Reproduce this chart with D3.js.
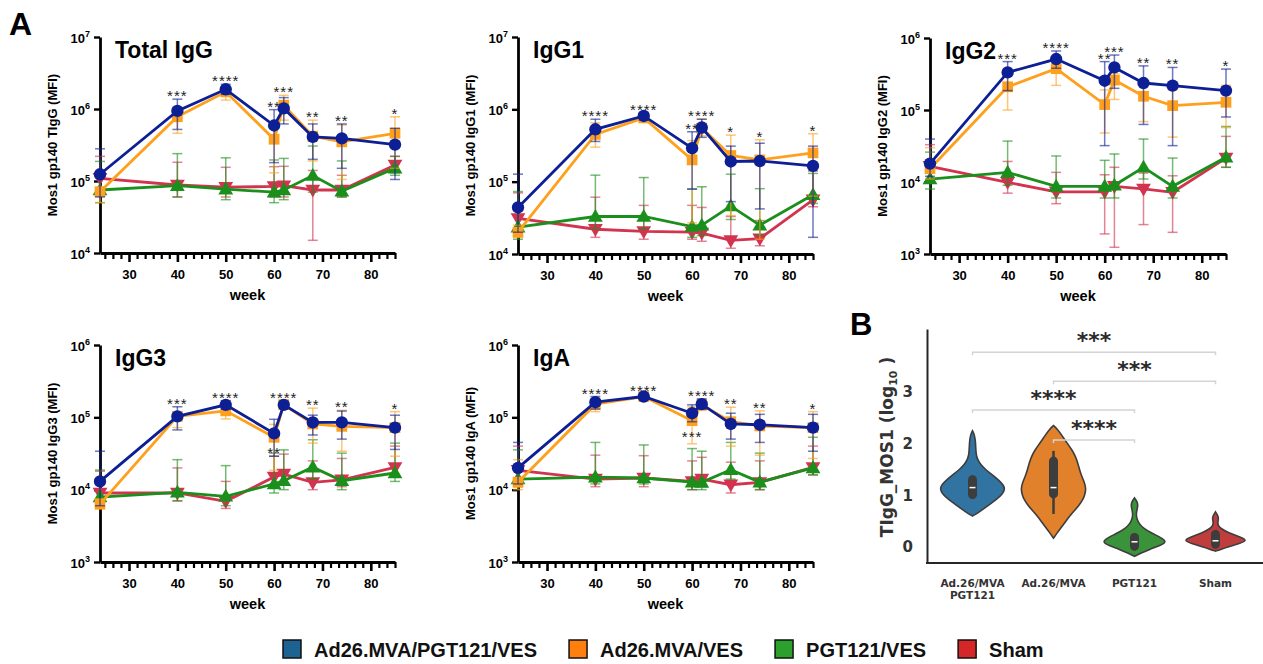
<!DOCTYPE html>
<html><head><meta charset="utf-8">
<script src="https://cdn.jsdelivr.net/npm/d3@7"></script>
<style>
body{margin:0;background:#fff}
svg{display:block}
text{font-family:"Liberation Sans",Arial,sans-serif}
.v text, text.v{font-family:"DejaVu Sans",sans-serif}
</style>
</head><body>
<svg id="c" width="1263" height="664"></svg>
<script>
// ---------------- DATA ----------------
const weeks = [24, 40, 50, 60, 62, 68, 74, 85];
const groups = ["Ad26.MVA/PGT121/VES", "Ad26.MVA/VES", "PGT121/VES", "Sham"];
const starWeeks = [40, 50, 60, 62, 68, 74, 85];

// series order: [Ad26.MVA/PGT121/VES, Ad26.MVA/VES, PGT121/VES, Sham]
const tiggMean = [
  [1.24e5, 9.4e5, 1.88e6, 5.9e5, 1.02e6, 4.1e5, 3.9e5, 3.2e5],
  [7.1e4, 7.8e5, 1.73e6, 3.8e5, 1.13e6, 4.2e5, 3.5e5, 4.6e5],
  [7.5e4, 8.6e4, 7.7e4, 7.0e4, 7.5e4, 1.19e5, 7.2e4, 1.51e5],
  [1.09e5, 8.8e4, 8.2e4, 8.4e4, 8.6e4, 7.5e4, 7.5e4, 1.67e5]];
const tiggHi = [
  [2.8e5, 1.37e6, 2.2e6, 9.8e5, 1.44e6, 6.2e5, 6.2e5, 5.4e5],
  [1.1e5, 1.05e6, 1.95e6, 6.5e5, 1.55e6, 7.0e5, 6.0e5, 7.8e5],
  [1.87e5, 2.4e5, 2.1e5, 1.96e5, 2.06e5, 3.06e5, 1.9e5, 2.2e5],
  [2.2e5, 1.82e5, 1.55e5, 1.58e5, 1.6e5, 1.4e5, 1.2e5, 2.2e5]];
const tiggLo = [
  [6.0e4, 5.2e5, 1.6e6, 1.8e5, 6.2e5, 2.0e5, 1.5e5, 1.05e5],
  [5.0e4, 4.6e5, 1.33e6, 1.3e5, 7.0e5, 1.9e5, 1.05e5, 1.5e5],
  [5.0e4, 6.0e4, 5.5e4, 5.0e4, 5.5e4, 7.0e4, 6.0e4, 1.2e5],
  [7.0e4, 6.0e4, 6.0e4, 6.0e4, 6.0e4, 1.5e4, 6.0e4, 1.3e5]];
const tiggStars = ["***", "****", "**", "***", "**", "**", "*"];

const igg1Mean = [
  [4.4e4, 5.3e5, 8.1e5, 2.9e5, 5.6e5, 1.9e5, 1.93e5, 1.65e5],
  [2.0e4, 4.5e5, 7.6e5, 2.0e5, 5.5e5, 2.3e5, 2.0e5, 2.5e5],
  [2.35e4, 3.3e4, 3.3e4, 2.4e4, 2.5e4, 4.6e4, 2.5e4, 6.6e4],
  [3.1e4, 2.2e4, 2.05e4, 2.0e4, 1.95e4, 1.54e4, 1.63e4, 5.6e4]];
const igg1Hi = [
  [1.27e5, 7.3e5, 9.0e5, 4.9e5, 7.3e5, 3.1e5, 3.4e5, 3.1e5],
  [2.5e4, 6.5e5, 8.6e5, 3.7e5, 7.3e5, 4.4e5, 3.8e5, 4.6e5],
  [7.3e4, 1.23e5, 1.14e5, 7.9e4, 8.5e4, 1.27e5, 8.0e4, 1.3e5],
  [7.0e4, 6.1e4, 4.7e4, 4.7e4, 4.4e4, 3.3e4, 2.9e4, 1.4e5]];
const igg1Lo = [
  [2.0e4, 3.6e5, 7.2e5, 7.9e4, 4.1e5, 5.3e4, 4.2e4, 1.7e4],
  [1.7e4, 3.0e5, 6.8e5, 2.7e4, 4.3e5, 3.4e4, 1.6e4, 6.3e4],
  [1.6e4, 2.2e4, 2.2e4, 1.7e4, 1.8e4, 3.0e4, 1.8e4, 5.0e4],
  [2.2e4, 1.7e4, 1.6e4, 1.6e4, 1.5e4, 1.2e4, 1.3e4, 4.5e4]];
const igg1Stars = ["****", "****", "**", "****", "*", "*", "*"];

const igg2Mean = [
  [1.8e4, 3.33e5, 5.1e5, 2.55e5, 3.9e5, 2.37e5, 2.18e5, 1.86e5],
  [1.53e4, 2.1e5, 3.75e5, 1.19e5, 2.6e5, 1.55e5, 1.15e5, 1.28e5],
  [1.1e4, 1.36e4, 8.7e3, 8.7e3, 9.0e3, 1.6e4, 8.7e3, 2.2e4],
  [1.65e4, 9.9e3, 7.3e3, 7.3e3, 8.7e3, 8.0e3, 7.2e3, 2.15e4]];
const igg2Hi = [
  [3.95e4, 4.7e5, 6.6e5, 4.7e5, 5.8e5, 4.1e5, 3.9e5, 3.7e5],
  [3.0e4, 3.0e5, 4.2e5, 1.9e5, 3.2e5, 2.4e5, 1.9e5, 2.2e5],
  [2.6e4, 3.7e4, 2.3e4, 2.0e4, 2.45e4, 3.95e4, 2.15e4, 5.9e4],
  [3.3e4, 1.93e4, 1.36e4, 1.26e4, 1.6e4, 1.33e4, 1.22e4, 4.3e4]];
const igg2Lo = [
  [1.2e4, 1.86e5, 3.8e5, 3.2e4, 2.0e5, 6.3e4, 3.2e4, 8.0e4],
  [1.1e4, 1.0e5, 2.2e5, 4.8e4, 1.4e5, 6.9e4, 4.2e4, 5.7e4],
  [8.0e3, 9.0e3, 6.0e3, 6.0e3, 6.0e3, 1.1e4, 6.0e3, 1.6e4],
  [1.1e4, 7.0e3, 5.0e3, 1.9e3, 1.24e3, 2.56e3, 2.0e3, 1.6e4]];
const igg2Stars = ["***", "****", "**", "***", "**", "**", "*"];

const igg3Mean = [
  [1.3e4, 1.03e5, 1.49e5, 6.0e4, 1.49e5, 8.5e4, 8.5e4, 7.2e4],
  [6.3e3, 1.03e5, 1.23e5, 5.3e4, 1.5e5, 8.1e4, 7.5e4, 7.2e4],
  [7.9e3, 9.2e3, 8.1e3, 1.2e4, 1.33e4, 2.05e4, 1.33e4, 1.7e4],
  [9.0e3, 9.0e3, 6.9e3, 1.5e4, 1.64e4, 1.26e4, 1.37e4, 2.03e4]];
const igg3Hi = [
  [3.4e4, 1.4e5, 1.7e5, 9.4e4, 1.65e5, 1.07e5, 1.22e5, 1.07e5],
  [7.5e3, 1.2e5, 1.35e5, 8.0e4, 1.7e5, 1.34e5, 1.25e5, 1.2e5],
  [1.87e4, 2.6e4, 2.15e4, 3.2e4, 3.55e4, 4.9e4, 3.2e4, 4.4e4],
  [1.8e4, 2.0e4, 1.3e4, 2.9e4, 3.1e4, 2.5e4, 2.7e4, 4.0e4]];
const igg3Lo = [
  [6.0e3, 6.7e4, 1.3e5, 2.9e4, 1.35e5, 5.7e4, 5.0e4, 3.6e4],
  [5.5e3, 7.2e4, 9.5e4, 1.85e4, 1.3e5, 4.4e4, 3.4e4, 2.9e4],
  [6.0e3, 7.0e3, 6.0e3, 9.0e3, 1.0e4, 1.4e4, 1.0e4, 1.3e4],
  [7.0e3, 7.0e3, 5.5e3, 1.1e4, 1.2e4, 1.0e4, 1.1e4, 1.6e4]];
const igg3Stars = ["***", "****", "**", "****", "**", "**", "*"];
const igg3StarBelow = [60];

const igaMean = [
  [2.0e4, 1.62e5, 1.94e5, 1.14e5, 1.52e5, 8.1e4, 7.9e4, 7.2e4],
  [1.27e4, 1.52e5, 1.94e5, 9.0e4, 1.49e5, 8.7e4, 7.6e4, 7.2e4],
  [1.4e4, 1.49e4, 1.45e4, 1.27e4, 1.26e4, 1.88e4, 1.27e4, 2.0e4],
  [1.85e4, 1.4e4, 1.45e4, 1.3e4, 1.4e4, 1.17e4, 1.26e4, 2.03e4]];
const igaHi = [
  [4.5e4, 1.94e5, 2.1e5, 1.49e5, 1.8e5, 1.14e5, 1.1e5, 1.1e5],
  [2.6e4, 1.8e5, 2.05e5, 1.4e5, 1.75e5, 1.38e5, 1.23e5, 1.2e5],
  [3.55e4, 4.5e4, 4.15e4, 3.7e4, 3.4e4, 4.5e4, 3.2e4, 5.3e4],
  [4.0e4, 3.0e4, 2.95e4, 2.5e4, 2.8e4, 2.4e4, 2.5e4, 4.0e4]];
const igaLo = [
  [1.2e4, 1.3e5, 1.8e5, 8.7e4, 1.3e5, 5.0e4, 4.5e4, 3.4e4],
  [1.0e4, 1.2e5, 1.8e5, 4.3e4, 1.25e5, 4.0e4, 3.0e4, 2.7e4],
  [1.1e4, 1.2e4, 1.2e4, 1.0e4, 1.0e4, 1.4e4, 1.0e4, 1.6e4],
  [1.4e4, 1.1e4, 1.1e4, 1.0e4, 1.1e4, 9.0e3, 1.0e4, 1.6e4]];
const igaStars = ["****", "****", "***", "****", "**", "**", "*"];
const igaStarBelow = [60];

// Panel B (violin, log10 values)
const violinCats = ["Ad.26/MVA|PGT121", "Ad.26/MVA", "PGT121", "Sham"];
const violinTicks = [0, 1, 2, 3];
// density profiles: [value, relative width]
const violinBlue = [[2.25,0],[2.17,0.06],[2.05,0.09],[1.92,0.1],[1.8,0.11],[1.7,0.15],[1.6,0.24],[1.5,0.4],[1.4,0.6],[1.3,0.8],[1.2,0.95],[1.12,1.0],[1.02,0.92],[0.92,0.74],[0.82,0.52],[0.72,0.3],[0.64,0.12],[0.6,0]];
const violinOrange = [[2.35,0],[2.28,0.12],[2.15,0.27],[2.0,0.43],[1.88,0.57],[1.75,0.68],[1.62,0.75],[1.5,0.8],[1.38,0.86],[1.25,0.95],[1.14,1.0],[1.02,0.97],[0.91,0.9],[0.8,0.78],[0.7,0.64],[0.6,0.5],[0.49,0.37],[0.38,0.24],[0.28,0.12],[0.17,0]];
const violinGreen = [[0.95,0],[0.89,0.07],[0.81,0.11],[0.73,0.08],[0.64,0.05],[0.55,0.07],[0.45,0.14],[0.36,0.28],[0.27,0.52],[0.18,0.82],[0.1,1.0],[0.03,0.8],[-0.05,0.45],[-0.12,0.2],[-0.18,0]];
const violinRed = [[0.68,0],[0.62,0.06],[0.56,0.1],[0.49,0.07],[0.42,0.07],[0.35,0.18],[0.27,0.42],[0.2,0.74],[0.13,1.0],[0.06,0.72],[0.0,0.36],[-0.05,0.15],[-0.08,0]];
const violinQ1 = [0.93, 0.94, -0.07, -0.03];
const violinQ3 = [1.39, 1.75, 0.27, 0.33];
const violinMedian = [1.15, 1.15, 0.10, 0.12];
const violinWhiskLo = [0.93, 0.64, -0.07, -0.03];
const violinWhiskHi = [1.39, 1.86, 0.27, 0.33];
// significance brackets: [from, to, level(log10), label]
const brackets = [[0, 3, 3.77, "***"], [1, 3, 3.21, "***"], [0, 2, 2.65, "****"], [1, 2, 2.07, "****"]];

// ---------------- STYLE / LAYOUT ----------------
const lineColors = ["#0d1f94", "#ffa01c", "#1b8f1b", "#d2344f"];
const violinColors = ["#3274a1", "#e1812c", "#3a923a", "#c03d3e"];
const legendColors = ["#1d6391", "#ff7f0e", "#2ca02c", "#d62728"];

const panels = [
  {title: "Total IgG", ylab: "Mos1 gp140 TIgG (MFI)", ymin: 1e4, ymax: 1e7, x0: 100, x1: 395, yTop: 37, yBot: 253,
   mean: tiggMean, hi: tiggHi, lo: tiggLo, stars: tiggStars, below: []},
  {title: "IgG1", ylab: "Mos1 gp140 IgG1 (MFI)", ymin: 1e4, ymax: 1e7, x0: 518, x1: 813, yTop: 37, yBot: 254,
   mean: igg1Mean, hi: igg1Hi, lo: igg1Lo, stars: igg1Stars, below: []},
  {title: "IgG2", ylab: "Mos1 gp140 IgG2 (MFI)", ymin: 1e3, ymax: 1e6, x0: 930, x1: 1226, yTop: 38, yBot: 254,
   mean: igg2Mean, hi: igg2Hi, lo: igg2Lo, stars: igg2Stars, below: []},
  {title: "IgG3", ylab: "Mos1 gp140 IgG3 (MFI)", ymin: 1e3, ymax: 1e6, x0: 100, x1: 395, yTop: 345, yBot: 562,
   mean: igg3Mean, hi: igg3Hi, lo: igg3Lo, stars: igg3Stars, below: igg3StarBelow},
  {title: "IgA", ylab: "Mos1 gp140 IgA (MFI)", ymin: 1e3, ymax: 1e6, x0: 518, x1: 813, yTop: 345, yBot: 562,
   mean: igaMean, hi: igaHi, lo: igaLo, stars: igaStars, below: igaStarBelow}
];

const svg = d3.select("#c");

const symbolGen = [
  d3.symbol().type(d3.symbolCircle).size(120),
  d3.symbol().type(d3.symbolSquare).size(115),
  d3.symbol().type(d3.symbolTriangle).size(95),
  d3.symbol().type(d3.symbolTriangle).size(95)
];
const symbolRot = [0, 0, 0, 180];

function drawPanel(p) {
  const x = d3.scaleLinear().domain([24, 85]).range([p.x0, p.x1]);
  const y = d3.scaleLog().domain([p.ymin, p.ymax]).range([p.yBot, p.yTop]);
  const g = svg.append("g");

  // x axis: major + minor ticks
  const majors = [30, 40, 50, 60, 70, 80];
  const minors = d3.range(0, 37).filter(i => i % 6 !== 3).map(i => 25 + i * 10 / 6);
  const gMinor = g.append("g").attr("transform", `translate(0,${p.yBot})`)
    .call(d3.axisBottom(x).tickValues(minors).tickSize(6).tickFormat(""));
  gMinor.select(".domain").remove();
  gMinor.selectAll(".tick line").attr("stroke", "#000").attr("stroke-width", 2.2);
  const gMaj = g.append("g").attr("transform", `translate(0,${p.yBot})`)
    .call(d3.axisBottom(x).tickValues(majors).tickSize(9).tickSizeOuter(0).tickPadding(8).tickFormat(d3.format("d")));
  gMaj.select(".domain").attr("stroke", "#000").attr("stroke-width", 2.8);
  gMaj.selectAll(".tick line").attr("stroke", "#000").attr("stroke-width", 2.6);
  gMaj.selectAll(".tick text").attr("font-family", "Liberation Sans, Arial").attr("font-weight", "bold")
    .attr("font-size", 13).attr("fill", "#000");

  // y axis
  const decs = d3.range(Math.log10(p.ymin), Math.log10(p.ymax) + 1).map(e => Math.pow(10, e));
  const gy = g.append("g").attr("transform", `translate(${p.x0},0)`)
    .call(d3.axisLeft(y).tickValues(decs).tickSize(6).tickSizeOuter(0).tickFormat(""));
  gy.select(".domain").attr("stroke", "#000").attr("stroke-width", 2.8);
  gy.selectAll(".tick line").attr("stroke", "#000").attr("stroke-width", 2.4);
  gy.selectAll(".tick").each(function(d) {
    const t = d3.select(this).append("text").attr("x", -10).attr("y", 5)
      .attr("text-anchor", "end").attr("font-weight", "bold").attr("font-size", 13).attr("fill", "#000");
    t.append("tspan").text("10");
    t.append("tspan").attr("dy", -6).attr("font-size", 9).text(Math.round(Math.log10(d)));
  });

  // labels
  g.append("text").attr("x", p.x0 + 15).attr("y", p.yTop + 21).attr("font-weight", "bold")
    .attr("font-size", 23).text(p.title);
  g.append("text").attr("transform", `translate(${p.x0 - 43},${(p.yTop + p.yBot) / 2}) rotate(-90)`)
    .attr("text-anchor", "middle").attr("font-weight", "bold").attr("font-size", 13).text(p.ylab);
  g.append("text").attr("x", (p.x0 + p.x1) / 2).attr("y", p.yBot + 47).attr("text-anchor", "middle")
    .attr("font-weight", "bold").attr("font-size", 14.5).text("week");

  // series, drawn Sham -> green -> orange -> blue
  [3, 2, 1, 0].forEach(s => {
    const col = lineColors[s];
    const gs = g.append("g");
    weeks.forEach((w, i) => {
      const xx = x(w), yh = y(p.hi[s][i]), yl = y(p.lo[s][i]);
      gs.append("line").attr("x1", xx).attr("x2", xx).attr("y1", yh).attr("y2", yl)
        .attr("stroke", col).attr("stroke-width", 1.5).attr("opacity", 0.6);
      [yh, yl].forEach(yy => gs.append("line").attr("x1", xx - 5).attr("x2", xx + 5).attr("y1", yy).attr("y2", yy)
        .attr("stroke", col).attr("stroke-width", 1.5).attr("opacity", 0.6));
    });
    const line = d3.line().x((d, i) => x(weeks[i])).y(d => y(d));
    gs.append("path").attr("d", line(p.mean[s])).attr("fill", "none").attr("stroke", col).attr("stroke-width", 2.8);
    gs.selectAll("path.m").data(p.mean[s]).enter().append("path").attr("class", "m")
      .attr("d", symbolGen[s])
      .attr("transform", (d, i) => `translate(${x(weeks[i])},${y(d) + (s === 3 ? -1 : s === 2 ? 1 : 0)}) rotate(${symbolRot[s]})`)
      .attr("fill", col);
  });

  // stars
  starWeeks.forEach((w, k) => {
    const i = weeks.indexOf(w);
    let yy;
    if (p.below.includes(w)) yy = y(p.mean[1][i]) + 21;
    else yy = Math.min(y(p.hi[0][i]), y(p.hi[1][i])) + 2;
    g.append("text").attr("x", x(w)).attr("y", yy).attr("text-anchor", "middle")
      .attr("font-size", 15).attr("letter-spacing", 1).attr("fill", "#222").text(p.stars[k]);
  });
}
panels.forEach(drawPanel);

// panel letters
svg.append("text").attr("x", 9).attr("y", 35).attr("font-weight", "bold").attr("font-size", 32).text("A");
svg.append("text").attr("x", 850).attr("y", 335).attr("font-weight", "bold").attr("font-size", 31).text("B");

// ---------------- Panel B: violins ----------------
const vg = svg.append("g").attr("class", "v");
const vx = d3.scaleBand().domain(d3.range(4)).range([932, 1256]);
const vy = d3.scaleLinear().domain([-0.31, 4.22]).range([563, 329]);
const vw = d3.scaleLinear().domain([0, 1]).range([0, 32.5]);

const gva = vg.append("g").attr("transform", "translate(927,0)")
  .call(d3.axisLeft(vy).tickValues(violinTicks).tickSize(0).tickSizeOuter(0).tickPadding(14).tickFormat(d3.format("d")));
gva.select(".domain").attr("stroke", "#262626").attr("stroke-width", 2);
gva.selectAll(".tick text").attr("font-family", "DejaVu Sans").attr("font-weight", "bold")
  .attr("font-size", 15).attr("fill", "#333");
const gvx = vg.append("g").attr("transform", "translate(0,563)")
  .call(d3.axisBottom(vx).tickSize(0).tickPadding(16).tickFormat(""));
gvx.select(".domain").remove();
vg.append("line").attr("x1", 926).attr("x2", 1263).attr("y1", vy(-0.31)).attr("y2", vy(-0.31))
  .attr("stroke", "#262626").attr("stroke-width", 2);
violinCats.forEach((c, i) => {
  const t = vg.append("text").attr("x", vx(i) + vx.bandwidth() / 2).attr("y", 587).attr("text-anchor", "middle")
    .attr("font-family", "DejaVu Sans").attr("font-weight", "bold").attr("font-size", 10.5).attr("fill", "#333");
  c.split("|").forEach((ln, j) => t.append("tspan").attr("x", vx(i) + vx.bandwidth() / 2).attr("dy", j ? 12 : 0).text(ln));
});
const yl = vg.append("text").attr("transform", "translate(893,447) rotate(-90)").attr("text-anchor", "middle")
  .attr("font-family", "DejaVu Sans").attr("font-weight", "bold").attr("font-size", 17).attr("fill", "#333");
yl.append("tspan").text("TIgG_MOS1 (log");
yl.append("tspan").attr("dy", 4).attr("font-size", 11).text("10");
yl.append("tspan").attr("dy", -4).text(" )");

[violinBlue, violinOrange, violinGreen, violinRed].forEach((prof, i) => {
  const cx = vx(i) + vx.bandwidth() / 2;
  const area = d3.area().curve(d3.curveBasis)
    .y(d => vy(d[0])).x0(d => cx - vw(d[1])).x1(d => cx + vw(d[1]));
  vg.append("path").attr("d", area(prof)).attr("fill", violinColors[i])
    .attr("stroke", "#3d3d3d").attr("stroke-width", 1.6);
  vg.append("line").attr("x1", cx).attr("x2", cx).attr("y1", vy(violinWhiskHi[i])).attr("y2", vy(violinWhiskLo[i]))
    .attr("stroke", "#3d3d3d").attr("stroke-width", 2.5);
  vg.append("rect").attr("x", cx - 4.5).attr("width", 9).attr("y", vy(violinQ3[i]))
    .attr("height", vy(violinQ1[i]) - vy(violinQ3[i])).attr("rx", 4.5).attr("fill", "#3d3d3d");
  vg.append("line").attr("x1", cx - 3).attr("x2", cx + 3).attr("y1", vy(violinMedian[i])).attr("y2", vy(violinMedian[i]))
    .attr("stroke", "#fff").attr("stroke-width", 1.5);
});

brackets.forEach(([a, b, lev, lab]) => {
  const xa = vx(a) + vx.bandwidth() / 2, xb = vx(b) + vx.bandwidth() / 2, yy = vy(lev);
  vg.append("path").attr("d", `M${xa},${yy + 3}V${yy}H${xb}V${yy + 3}`).attr("fill", "none")
    .attr("stroke", "#d4d4d4").attr("stroke-width", 1.5);
  vg.append("text").attr("x", (xa + xb) / 2).attr("y", yy - 4).attr("text-anchor", "middle")
    .attr("font-family", "DejaVu Sans").attr("font-weight", "bold").attr("font-size", 22).attr("fill", "#2a2a2a").text(lab);
});

// ---------------- Legend ----------------
let lx = 283;
groups.forEach((gname, i) => {
  svg.append("rect").attr("x", lx).attr("y", 640).attr("width", 18).attr("height", 18)
    .attr("fill", legendColors[i]).attr("stroke", "#111").attr("stroke-width", 1.5);
  const t = svg.append("text").attr("x", lx + 31).attr("y", 657).attr("font-weight", "bold")
    .attr("font-size", 20).attr("fill", "#111").text(gname);
  lx = lx + 31 + t.node().getComputedTextLength() + 32;
});
</script>
</body></html>
